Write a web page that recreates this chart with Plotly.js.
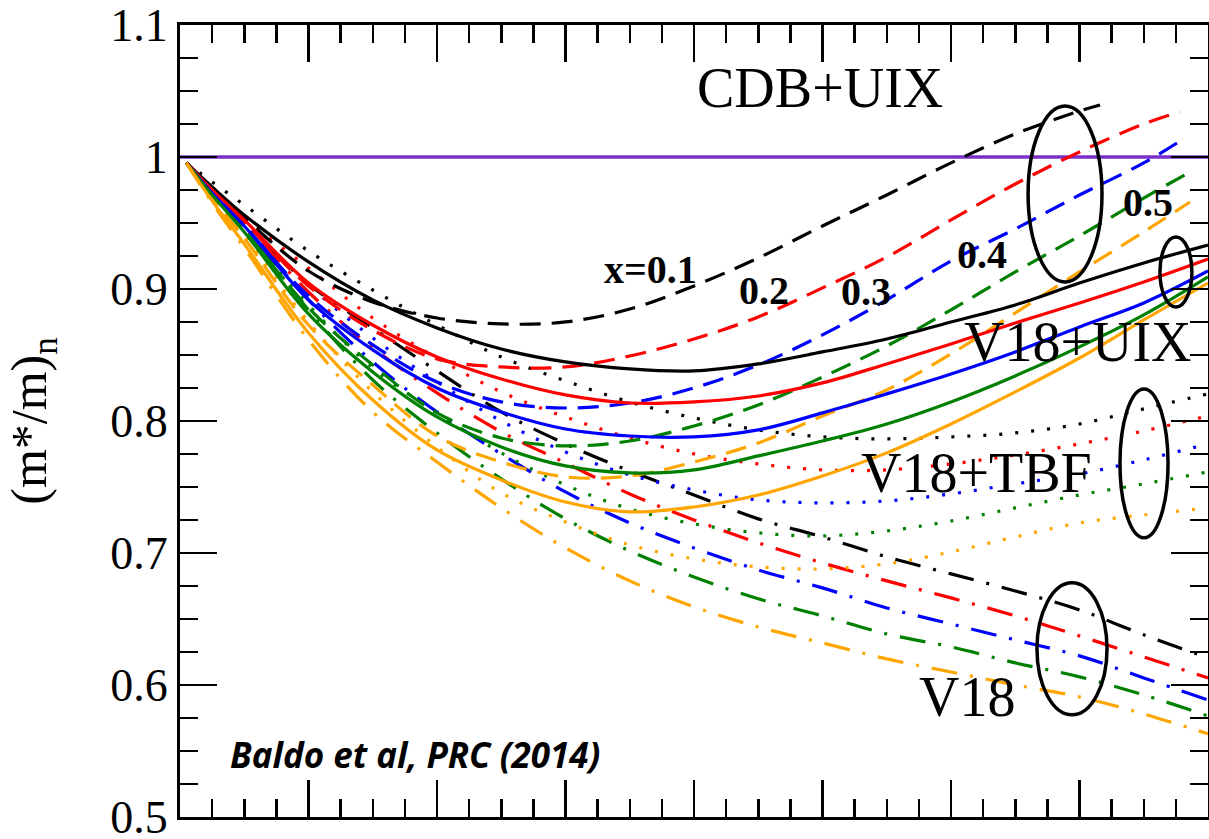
<!DOCTYPE html>
<html>
<head>
<meta charset="utf-8">
<script src="https://cdn.plot.ly/plotly-3.0.1.min.js"></script>
<style>html,body{margin:0;padding:0;background:#fff;}#chart{width:1209px;height:839px;}</style>
</head>
<body>
<div id="chart"></div>
<script>
// ---- data ----
const xGrid = [0.005, 0.025, 0.05, 0.1, 0.15, 0.2, 0.25, 0.3, 0.35, 0.4, 0.45, 0.5, 0.55, 0.6, 0.65, 0.7, 0.75, 0.8];
const fractions = ["x=0.1", "0.2", "0.3", "0.4", "0.5"];
const colors = ["#000000", "#ff0000", "#0000ff", "#008000", "#ffa500"];

// V18+UIX (solid)
const v18uix_01 = [0.9955, 0.9773, 0.9561, 0.9205, 0.8917, 0.8705, 0.8545, 0.8447, 0.8394, 0.8379, 0.8432, 0.8523, 0.8621, 0.875, 0.8879, 0.9045, 0.9197, 0.9333];
const v18uix_02 = [0.9955, 0.975, 0.9523, 0.9045, 0.8727, 0.8485, 0.8318, 0.8197, 0.8136, 0.8144, 0.8189, 0.8288, 0.8432, 0.8583, 0.8742, 0.8894, 0.9053, 0.9227];
const v18uix_03 = [0.9955, 0.9727, 0.9477, 0.8917, 0.8538, 0.825, 0.8068, 0.7939, 0.7886, 0.7879, 0.7932, 0.8061, 0.8205, 0.8356, 0.8523, 0.8712, 0.8894, 0.9136];
const v18uix_04 = [0.9955, 0.9712, 0.9432, 0.8811, 0.8371, 0.803, 0.7803, 0.7659, 0.7606, 0.7629, 0.7735, 0.7848, 0.7977, 0.8144, 0.8341, 0.8561, 0.8803, 0.9091];
const v18uix_05 = [0.9955, 0.9667, 0.9341, 0.8667, 0.8159, 0.778, 0.7553, 0.7386, 0.7311, 0.7348, 0.7439, 0.7583, 0.7758, 0.7977, 0.822, 0.8477, 0.8765, 0.9045];

// CDB+UIX (dashed) - each ends at its own density
const cdb_x01 = [0.005, 0.025, 0.05, 0.1, 0.15, 0.2, 0.25, 0.3, 0.35, 0.4, 0.45, 0.5, 0.55, 0.6, 0.65, 0.7, 0.716];
const cdb_01  = [0.9955, 0.9758, 0.9538, 0.9136, 0.8902, 0.878, 0.8735, 0.875, 0.8848, 0.9023, 0.9235, 0.9477, 0.9712, 0.9955, 1.0174, 1.0348, 1.0394];
const cdb_x02 = [0.005, 0.025, 0.05, 0.1, 0.15, 0.2, 0.25, 0.3, 0.35, 0.4, 0.45, 0.5, 0.55, 0.6, 0.65, 0.7, 0.75, 0.778];
const cdb_02  = [0.9955, 0.975, 0.9508, 0.9023, 0.8689, 0.847, 0.8409, 0.8409, 0.8492, 0.8621, 0.8788, 0.9008, 0.9242, 0.9523, 0.9795, 1.0038, 1.025, 1.0341];
const cdb_x03 = [0.005, 0.025, 0.05, 0.1, 0.15, 0.2, 0.25, 0.3, 0.35, 0.4, 0.45, 0.5, 0.55, 0.6, 0.65, 0.7, 0.75, 0.782];
const cdb_03  = [0.9955, 0.9727, 0.9477, 0.8947, 0.8576, 0.8295, 0.8144, 0.8098, 0.8136, 0.825, 0.8424, 0.8652, 0.8917, 0.9212, 0.9455, 0.9712, 0.9955, 1.0144];
const cdb_x04 = [0.005, 0.025, 0.05, 0.1, 0.15, 0.2, 0.25, 0.3, 0.35, 0.4, 0.45, 0.5, 0.55, 0.6, 0.65, 0.7, 0.75, 0.786];
const cdb_04  = [0.9955, 0.972, 0.9447, 0.8856, 0.8424, 0.8061, 0.7871, 0.7811, 0.7848, 0.7962, 0.8121, 0.8333, 0.8568, 0.8841, 0.9129, 0.9402, 0.9689, 0.9886];
const cdb_x05 = [0.005, 0.025, 0.05, 0.1, 0.15, 0.2, 0.25, 0.3, 0.35, 0.4, 0.45, 0.5, 0.55, 0.6, 0.65, 0.7, 0.75, 0.786];
const cdb_05  = [0.9955, 0.9689, 0.9386, 0.8727, 0.8273, 0.7886, 0.7689, 0.7576, 0.7583, 0.7689, 0.7833, 0.8038, 0.8235, 0.8508, 0.8818, 0.9129, 0.9432, 0.9659];

// V18+TBF (dotted)
const tbf_01 = [0.9955, 0.9811, 0.9636, 0.9288, 0.8992, 0.8727, 0.8485, 0.8303, 0.8144, 0.8023, 0.7932, 0.7879, 0.7864, 0.7879, 0.7909, 0.7977, 0.8091, 0.8205];
const tbf_02 = [0.9955, 0.9758, 0.9538, 0.9159, 0.878, 0.8477, 0.822, 0.803, 0.7871, 0.775, 0.7674, 0.7629, 0.7629, 0.7674, 0.7742, 0.7826, 0.7924, 0.8038];
const tbf_03 = [0.9955, 0.9742, 0.9508, 0.903, 0.8629, 0.8295, 0.8, 0.7765, 0.7591, 0.7477, 0.7402, 0.7379, 0.7394, 0.7447, 0.7523, 0.7598, 0.7705, 0.7826];
const tbf_04 = [0.9955, 0.972, 0.9462, 0.8879, 0.8402, 0.8061, 0.7758, 0.7515, 0.7333, 0.722, 0.7152, 0.7129, 0.7167, 0.7242, 0.7341, 0.7439, 0.7523, 0.7614];
const tbf_05 = [0.9955, 0.9697, 0.9402, 0.875, 0.822, 0.7803, 0.7455, 0.7235, 0.7061, 0.6955, 0.6894, 0.6879, 0.6917, 0.7008, 0.7121, 0.7227, 0.7288, 0.7341];

// V18 (dash-dot)
const v18_01 = [0.9955, 0.9742, 0.9508, 0.9038, 0.8705, 0.8379, 0.8068, 0.7826, 0.7621, 0.7439, 0.7258, 0.7121, 0.697, 0.6841, 0.6712, 0.6568, 0.6379, 0.6205];
const v18_02 = [0.9955, 0.9742, 0.95, 0.8977, 0.8553, 0.8212, 0.7917, 0.7682, 0.7447, 0.725, 0.7076, 0.6924, 0.6788, 0.6659, 0.6523, 0.6371, 0.6212, 0.6053];
const v18_03 = [0.9955, 0.9735, 0.9485, 0.8917, 0.8447, 0.8068, 0.775, 0.7462, 0.7227, 0.7038, 0.6871, 0.6735, 0.6583, 0.6462, 0.6341, 0.622, 0.6053, 0.5886];
const v18_04 = [0.9955, 0.972, 0.9462, 0.8841, 0.8311, 0.7909, 0.7561, 0.7258, 0.7015, 0.6818, 0.6652, 0.6523, 0.6386, 0.6288, 0.6167, 0.6061, 0.5924, 0.5765];
const v18_05 = [0.9955, 0.9652, 0.9311, 0.8614, 0.8068, 0.7689, 0.7341, 0.7038, 0.6788, 0.6591, 0.6439, 0.6318, 0.6197, 0.6098, 0.6, 0.5909, 0.578, 0.5629];

const refX = [0, 0.8];
const refY = [1, 1];

const yTicks = [0.5, 0.6, 0.7, 0.8, 0.9, 1, 1.1];
const yTickText = ["0.5", "0.6", "0.7", "0.8", "0.9", "1", "1.1"];

// ---- traces ----
const DASH = "21px,11px";
const DOT = "3px,13px";
const DASHDOT = "26px,13px,3px,13px";
const traces = [];
traces.push({x: refX, y: refY, mode: "lines", line: {color: "#7a30c8", width: 3.5}, hoverinfo: "skip"});
function add(x, y, c, dash) {
  traces.push({x: x, y: y, mode: "lines", line: {color: c, width: 3.2, dash: dash, shape: "spline", smoothing: 1}});
}
[v18_01, v18_02, v18_03, v18_04, v18_05].forEach((y, i) => add(xGrid, y, colors[i], DASHDOT));
[tbf_01, tbf_02, tbf_03, tbf_04, tbf_05].forEach((y, i) => add(xGrid, y, colors[i], DOT));
[[cdb_x01, cdb_01], [cdb_x02, cdb_02], [cdb_x03, cdb_03], [cdb_x04, cdb_04], [cdb_x05, cdb_05]].forEach((p, i) => add(p[0], p[1], colors[i], DASH));
[v18uix_01, v18uix_02, v18uix_03, v18uix_04, v18uix_05].forEach((y, i) => add(xGrid, y, colors[i], "solid"));

const serif = "Liberation Serif, Times New Roman, serif";
const bigFont = {family: serif, size: 56, color: "#000"};
const fracFont = {family: serif, size: 40, color: "#000"};

const annotations = [
  {text: "CDB+UIX", x: 0.498, y: 1.0523, font: bigFont},
  {text: "V18+UIX", x: 0.699, y: 0.8598, font: bigFont},
  {text: "V18+TBF", x: 0.6195, y: 0.7606, font: bigFont},
  {text: "V18", x: 0.6125, y: 0.5909, font: bigFont},
  {text: "<b>" + fractions[0] + "</b>", x: 0.3658, y: 0.9144, font: fracFont},
  {text: "<b>" + fractions[1] + "</b>", x: 0.4545, y: 0.8985, font: fracFont},
  {text: "<b>" + fractions[2] + "</b>", x: 0.534, y: 0.8977, font: fracFont},
  {text: "<b>" + fractions[3] + "</b>", x: 0.624, y: 0.9258, font: fracFont},
  {text: "<b>" + fractions[4] + "</b>", x: 0.7533, y: 0.9652, font: fracFont},
  {text: "<b><i>Baldo et al, PRC (2014)</i></b>", x: 0.0374, y: 0.547, xanchor: "left",
   font: {family: "Open Sans, sans-serif", size: 35, color: "#000"}}
].map(a => Object.assign({xref: "x", yref: "y", showarrow: false, xanchor: "center", yanchor: "middle"}, a));

const ell = (x0, x1, y0, y1) => ({type: "circle", xref: "x", yref: "y", x0: x0, x1: x1, y0: y0, y1: y1,
  line: {color: "#000", width: 3.5}});
const shapes = [
  ell(0.66, 0.7175, 0.9053, 1.0386),
  ell(0.7626, 0.7875, 0.8864, 0.9394),
  ell(0.7315, 0.7689, 0.7114, 0.8242),
  ell(0.6669, 0.7214, 0.5773, 0.6773)
];

const axisCommon = {
  showline: true, linecolor: "#000", linewidth: 3, mirror: "allticks",
  ticks: "inside", ticklen: 37, tickwidth: 2.5, tickcolor: "#000",
  showgrid: false, zeroline: false
};

const layout = {
  width: 1209, height: 839,
  margin: {l: 180, r: 1, t: 25, b: 22},
  paper_bgcolor: "#fff", plot_bgcolor: "#fff",
  showlegend: false,
  xaxis: Object.assign({}, axisCommon, {
    range: [0, 0.8], dtick: 0.1, tick0: 0, showticklabels: false,
    minor: {dtick: 0.025, ticks: "inside", ticklen: 18, tickwidth: 2.5, tickcolor: "#000", showgrid: false}
  }),
  yaxis: Object.assign({}, axisCommon, {
    range: [0.4999, 1.1], tickvals: yTicks, ticktext: yTickText,
    ticklabeloverflow: "allow",
    tickfont: {family: serif, size: 46, color: "#000"},
    minor: {dtick: 0.025, tick0: 0.5, ticks: "inside", ticklen: 18, tickwidth: 2.5, tickcolor: "#000", showgrid: false},
    title: {text: "(m*/m)<sub>n</sub>", font: {family: serif, size: 50, color: "#000"}, standoff: 48}
  }),
  annotations: annotations,
  shapes: shapes
};

Plotly.newPlot("chart", traces, layout, {staticPlot: true, displayModeBar: false});
</script>
</body>
</html>
